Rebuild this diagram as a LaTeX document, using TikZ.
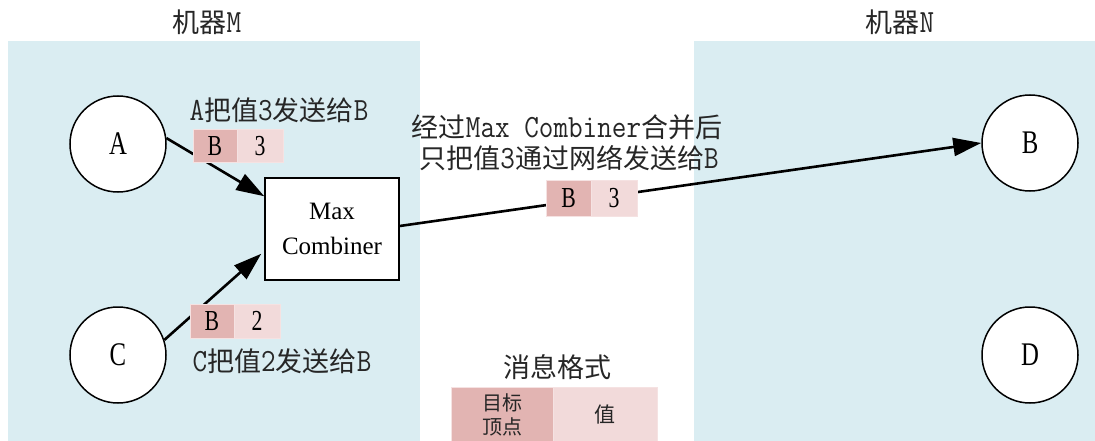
\documentclass[tikz,border=0pt]{standalone}
\usepackage{fontspec}
\usepackage{graphicx}
\setmainfont{Liberation Serif}
\newfontfamily\cjk{Noto Sans CJK SC}
\usetikzlibrary{arrows.meta,calc}
\definecolor{panel}{RGB}{218,237,242}
\definecolor{pdark}{RGB}{226,180,178}
\definecolor{plight}{RGB}{242,218,218}
\definecolor{pedge}{RGB}{245,226,226}
\newcommand\lat[1]{\scalebox{1.05}[1.2]{\ttfamily #1}}
\newcommand\nar[1]{\scalebox{0.75}[1]{#1}}
\begin{document}
\begin{tikzpicture}[x=1pt,y=-1pt,
  vertex/.style={circle,draw,line width=1.5pt,fill=white,minimum size=96pt,inner sep=0pt,font=\fontsize{33}{33}\selectfont},
  combox/.style={rectangle,draw,line width=1.5pt,fill=white,minimum width=134pt,minimum height=102pt,inner sep=0pt,align=center,font=\fontsize{25}{35}\selectfont},
  lbl/.style={inner sep=0pt,align=center,font=\cjk\fontsize{27}{30}\selectfont,text=black!85},
  cellbase/.style={draw=pedge,line width=1pt,inner sep=0pt,font=\fontsize{29}{29}\selectfont},
  dcell/.style={cellbase,fill=pdark},
  lcell/.style={cellbase,fill=plight},
  flow/.style={line width=2.6pt,-{Triangle[length=28pt,width=18pt]}},
]
\useasboundingbox (0,0) rectangle (1095,441);
% panels
\fill[panel] (8,41) rectangle (420,441);
\fill[panel] (694,41) rectangle (1095,441);
\node[lbl] (tM) at (207,22) {机器\lat{M}};
\node[lbl] (tN) at (900,22) {机器\lat{N}};
% vertices
\node[vertex] (A) at (118,144) {\nar{A}};
\node[vertex] (C) at (118,355) {\nar{C}};
\node[vertex] (B) at (1030,143) {\nar{B}};
\node[vertex] (D) at (1030,355) {\nar{D}};
\node[combox] (mc) at (332,229) {Max\\Combiner};
% arrows
\draw[flow] (A.7) -- ([yshift=-19pt]mc.north west);
\draw[flow] (C.18) -- ([xshift=-3pt,yshift=27pt]mc.south west);
\draw[flow] ([yshift=3pt]mc.east) -- (B.west);
% labels
\node[lbl] (la) at (279,110) {\lat{A}把值\lat{3}发送给\lat{B}};
\node[lbl] (lc) at (282,361) {\lat{C}把值\lat{2}发送给\lat{B}};
\node[lbl] (lm1) at (567,127) {经过\lat{Max Combiner}合并后};
\node[lbl] (lm2) at (569,158) {只把值\lat{3}通过网络发送给\lat{B}};
% packets
\node[dcell,minimum width=44pt,minimum height=33pt] (p1d) at (215,146.5) {\nar{B}};
\node[lcell,minimum width=46pt,minimum height=33pt] (p1l) at (260,146.5) {\nar{3}};
\node[dcell,minimum width=44pt,minimum height=34pt] (p2d) at (212,321) {\nar{B}};
\node[lcell,minimum width=46pt,minimum height=34pt] (p2l) at (257,321) {\nar{2}};
\node[dcell,minimum width=45pt,minimum height=36pt] (p3d) at (568.5,198) {\nar{B}};
\node[lcell,minimum width=46pt,minimum height=36pt] (p3l) at (614,198) {\nar{3}};
% legend
\node[lbl] (lt) at (557,367) {消息格式};
\node[dcell,minimum width=102pt,minimum height=55pt,align=center,font=\cjk\fontsize{20}{24}\selectfont,text=black!85] (kd) at (502,414.5) {目标\\顶点};
\node[lcell,minimum width=104pt,minimum height=55pt,font=\cjk\fontsize{21}{24}\selectfont,text=black!85] (kl) at (605,414.5) {值};
\end{tikzpicture}
\end{document}
